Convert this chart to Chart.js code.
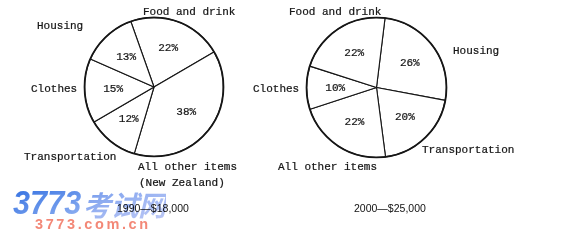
<!DOCTYPE html>
<html>
<head>
<meta charset="utf-8">
<script src="https://cdn.jsdelivr.net/npm/chart.js@4.4.1/dist/chart.umd.min.js"></script>
<style>
  html, body { margin: 0; padding: 0; background: #fff; }
  #wrap { position: relative; width: 564px; height: 250px; overflow: hidden; background: #fff; }
  canvas { position: absolute; top: 0; }
  .cap { position: absolute; font-family: "Liberation Sans", Arial, sans-serif; font-size: 10.5px;
         line-height: 12px; color: #111; z-index: 3; white-space: nowrap; }
  .wm { position: absolute; left: 13px; top: 186px; z-index: 2; white-space: nowrap; height: 34px; opacity: 0.92; }
  .wm span { position: absolute; top: 0; display: block; line-height: 34px;
             -webkit-background-clip: text; background-clip: text; color: transparent; }
  .wm .num { left: 0; font-family: "Liberation Sans", Arial, sans-serif; font-weight: bold;
             font-style: italic; font-size: 33px; transform: scaleX(0.93); transform-origin: left center;
             background-image: linear-gradient(160deg, #2a6ae0 10%, #5f8fea 60%, #8fb0f2 100%); }
  .wm .cjk { left: 70px; top: 1px; font-family: "Noto Sans CJK SC", sans-serif; font-weight: bold;
             font-style: italic; font-size: 28px; letter-spacing: -0.5px;
             background-image: linear-gradient(160deg, #6d96ec 10%, #9db4f2 60%, #b9c4f5 100%); }
  .wm2 { position: absolute; left: 35px; top: 216px; z-index: 2; font-family: "Liberation Sans", Arial, sans-serif;
         font-weight: bold; font-size: 14.5px; line-height: 17px; color: #f27e6c; letter-spacing: 2.6px;
         white-space: nowrap; opacity: 0.92; }
</style>
</head>
<body>
<div id="wrap">
  <canvas id="pie1990" width="240" height="250" style="left:0"></canvas>
  <canvas id="pie2000" width="324" height="250" style="left:240px"></canvas>
  <div class="wm"><span class="num">3773</span><span class="cjk">考试网</span></div>
  <div class="wm2">3773.com.cn</div>
  <div class="cap" style="left:117px; top:202px">1990—$18,000</div>
  <div class="cap" style="left:354px; top:202px">2000—$25,000</div>
</div>
<script>
// Household spending shares, 1990 and 2000 (per cent of total)
const categories1990 = ['Food and drink', 'All other items', 'Transportation', 'Clothes', 'Housing'];
const values1990 = [22, 38, 12, 15, 13];

const categories2000 = ['Housing', 'Transportation', 'All other items', 'Clothes', 'Food and drink'];
const values2000 = [26, 20, 22, 10, 22];

const note1990 = '(New Zealand)';

// Where each category name sits around its pie (canvas pixels, left edge / vertical middle)
const namePlaces1990 = {
  'Food and drink': [143, 12],
  'Housing': [37, 26],
  'Clothes': [31, 89],
  'Transportation': [24, 157],
  'All other items': [138, 167]
};
const namePlaces2000 = {
  'Food and drink': [49, 12],
  'Housing': [213, 51],
  'Clothes': [13, 89],
  'Transportation': [182, 150],
  'All other items': [38, 167]
};

const INK = '#161616';
const TEXT_FONT = '11px "Liberation Mono", "DejaVu Sans Mono", monospace';

// typewriter-style text: fill plus a hairline stroke to give it some weight
function inkText(ctx, text, x, y) {
  ctx.fillText(text, x, y);
  ctx.strokeText(text, x, y);
}

// Draws the percentage inside each slice, the heavier rim and the category names
const pieText = {
  id: 'pieText',
  afterDatasetsDraw(chart, args, opts) {
    const ctx = chart.ctx;
    const meta = chart.getDatasetMeta(0);
    const values = chart.data.datasets[0].data;
    ctx.save();
    // heavier outer rim
    const first = meta.data[0].getProps(['x', 'y', 'outerRadius'], true);
    ctx.beginPath();
    ctx.arc(first.x, first.y, first.outerRadius, 0, Math.PI * 2);
    ctx.lineWidth = 1.8;
    ctx.strokeStyle = INK;
    ctx.stroke();

    ctx.font = TEXT_FONT;
    ctx.fillStyle = INK;
    ctx.lineWidth = 0.22;
    ctx.textAlign = 'center';
    ctx.textBaseline = 'middle';
    meta.data.forEach((arc, i) => {
      const p = arc.getProps(['x', 'y', 'startAngle', 'endAngle', 'outerRadius'], true);
      const mid = (p.startAngle + p.endAngle) / 2;
      const r = p.outerRadius * opts.labelRadius;
      inkText(ctx, values[i] + '%', p.x + Math.cos(mid) * r, p.y + Math.sin(mid) * r);
    });

    ctx.textAlign = 'left';
    chart.data.labels.forEach((name) => {
      const at = opts.places[name];
      if (at) inkText(ctx, name, at[0], at[1]);
    });
    (opts.extra || []).forEach((t) => inkText(ctx, t[0], t[1], t[2]));
    ctx.restore();
  }
};

function makePie(id, labels, values, rotation, padding, places, extra) {
  return new Chart(document.getElementById(id), {
    type: 'pie',
    data: {
      labels: labels,
      datasets: [{
        data: values,
        backgroundColor: '#ffffff',
        borderColor: INK,
        borderWidth: 1.1,
        borderAlign: 'center'
      }]
    },
    options: {
      responsive: false,
      animation: false,
      rotation: rotation,
      layout: { padding: padding },
      plugins: {
        legend: { display: false },
        tooltip: { enabled: false },
        pieText: { places: places, extra: extra, labelRadius: 0.59 }
      }
    },
    plugins: [pieText]
  });
}

makePie('pie1990', categories1990, values1990, -19.5,
  { left: 84, top: 17, right: 16, bottom: 93 }, namePlaces1990, [[note1990, 139, 183]]);
makePie('pie2000', categories2000, values2000, 7,
  { left: 66, top: 17, right: 117, bottom: 92 }, namePlaces2000, []);
</script>
</body>
</html>
